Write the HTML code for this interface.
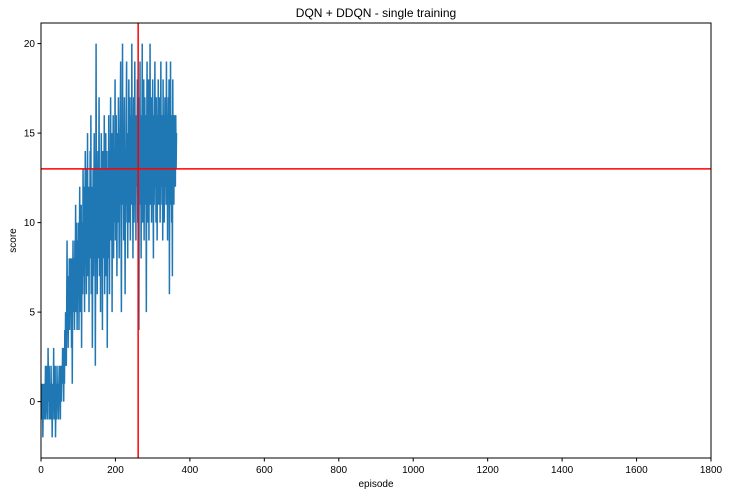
<!DOCTYPE html>
<html><head><meta charset="utf-8"><style>
body{margin:0;background:#fff;}
svg text{font-family:"Liberation Sans",sans-serif;}
</style></head><body>
<svg id="c" width="730" height="496" xmlns="http://www.w3.org/2000/svg"></svg>
<script>
const scores = [
0,1,-1,0,1,-2,0,1,0,-1,1,0,2,-1,0,1,2,0,-1,3,
1,0,2,-1,1,0,-1,2,0,1,-2,0,1,0,3,-1,1,0,2,-2,
0,1,-1,2,0,1,0,-1,1,2,0,1,-1,2,1,0,2,1,3,1,
2,0,3,1,4,2,5,3,2,5,9,4,6,3,7,5,8,4,6,8,
5,7,3,8,1,6,9,5,8,7,4,9,6,11,5,8,10,4,7,9,
6,10,4,8,12,5,9,7,11,3,8,10,6,13,9,7,12,5,10,14,
8,11,6,13,9,15,7,10,12,5,11,9,14,8,16,6,12,10,3,9,
13,7,11,15,8,12,2,10,20,9,13,6,11,14,8,12,17,7,10,13,
5,11,15,9,12,4,14,8,13,10,16,6,12,9,15,7,11,14,3,10,
13,8,16,11,6,14,10,17,9,12,15,5,13,11,16,8,14,10,12,18,
9,13,16,11,7,15,12,10,17,14,8,13,11,16,19,10,5,14,12,20,
11,15,9,13,17,12,6,14,10,16,19,11,13,8,15,12,18,10,14,17,
9,13,16,11,20,12,15,8,14,17,10,13,19,11,15,9,16,12,14,18,
10,13,17,4,15,12,19,11,14,8,16,13,20,10,15,12,18,9,14,17,
11,16,13,5,15,19,10,14,12,18,9,16,13,20,11,15,17,10,14,12,
18,13,8,16,11,15,19,12,14,10,17,13,9,16,12,18,11,15,13,17,
10,14,19,12,16,11,15,9,18,13,16,10,14,17,12,15,11,19,13,16,
9,14,17,12,18,6,15,11,19,13,16,10,14,7,18,12,15,11,16,13,
14,12,16,13,15];
const xTicks = [0,200,400,600,800,1000,1200,1400,1600,1800];
const yTicks = [0,5,10,15,20];
const vLine = 261;
const hLine = 13;
const L=41,R=711,T=23,B=458, xMin=0,xMax=1800,yMin=-3.15,yMax=21.15;
const X=v=>L+(v-xMin)/(xMax-xMin)*(R-L);
const Y=v=>B-(v-yMin)/(yMax-yMin)*(B-T);
const svg=document.getElementById('c');
const NS='http://www.w3.org/2000/svg';
function mk(tag,attrs,parent){const e=document.createElementNS(NS,tag);for(const k in attrs)e.setAttribute(k,attrs[k]);(parent||svg).appendChild(e);return e;}
let d='';
scores.forEach((s,i)=>{d+=(i?'L':'M')+X(i).toFixed(2)+','+Y(s).toFixed(2);});
const clip=mk('clipPath',{id:'cp'});mk('rect',{x:L,y:T,width:R-L,height:B-T},clip);
const line=mk('path',{d:d,fill:'none',stroke:'#1f77b4','stroke-width':1.5,'clip-path':'url(#cp)'});


const vl=mk('line',{x1:X(vLine),x2:X(vLine),y1:T,y2:B,stroke:'red','stroke-width':1.5});


const hl=mk('line',{x1:L,x2:R,y1:Y(hLine),y2:Y(hLine),stroke:'red','stroke-width':1.5});


const frame=mk('rect',{x:L,y:T,width:R-L,height:B-T,fill:'none',stroke:'#000','stroke-width':1});


xTicks.forEach(v=>{
  mk('line',{x1:X(v),x2:X(v),y1:B,y2:B+3.5,stroke:'#000'});
  const t=mk('text',{x:X(v),y:B+15,'text-anchor':'middle','font-size':10});t.textContent=v;
  
  
});
yTicks.forEach(v=>{
  mk('line',{x1:L-3.5,x2:L,y1:Y(v),y2:Y(v),stroke:'#000'});
  const t=mk('text',{x:L-6,y:Y(v)+3.5,'text-anchor':'end','font-size':10});t.textContent=v;
  
  
});
const title=mk('text',{x:(L+R)/2,y:17,'text-anchor':'middle','font-size':12});title.textContent='DQN + DDQN - single training';


const xl=mk('text',{x:(L+R)/2,y:487,'text-anchor':'middle','font-size':10});xl.textContent='episode';


const yl=mk('text',{x:16,y:(T+B)/2,'text-anchor':'middle','font-size':10,transform:'rotate(-90 16 '+((T+B)/2)+')'});yl.textContent='score';


</script>
</body></html>
